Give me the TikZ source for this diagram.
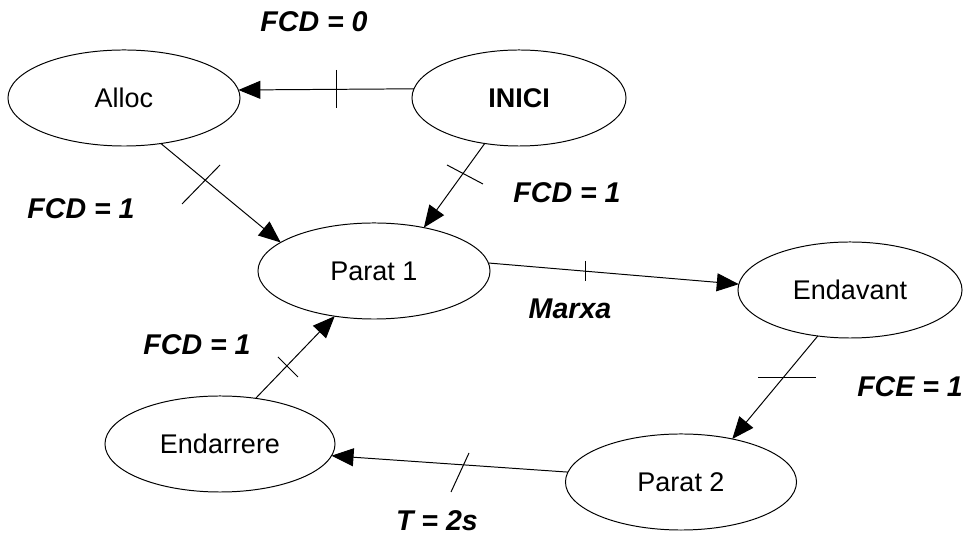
\documentclass[tikz,border=0pt]{standalone}
\usepackage{fontspec}
\setmainfont{Liberation Sans}
\usetikzlibrary{arrows.meta}
\usetikzlibrary{shapes}

\tikzset{
  estat/.style={draw, ellipse, line width=0.7pt, minimum height=2.4cm, inner sep=0pt, outer sep=0pt, font=\fontsize{19.2}{23}\selectfont},
  fletxa/.style={-{Triangle[length=0.55cm,width=0.45cm]}, line width=0.7pt},
  marca/.style={line width=0.7pt},
  condicio/.style={font=\fontsize{20.3}{24}\selectfont\bfseries\itshape},
}

\begin{document}
\begin{tikzpicture}[x=0.025cm, y=-0.025cm]
		\useasboundingbox (0,0) rectangle (963,536);
		%
		%Alloc
		\node[estat, minimum width=5.8cm] (alloc) at (124,98) {Alloc};
		%
		%INICI
		\node[estat, minimum width=5.35cm] (inici) at (519,98) {\bfseries INICI};
		%
		%Parat 1
		\node[estat, minimum width=5.8cm] (parat1) at (374,271) {Parat 1};
		%
		%Endavant
		\node[estat, minimum width=5.6cm] (endavant) at (850,290) {Endavant};
		%
		%Parat 2
		\node[estat, minimum width=5.775cm] (parat2) at (681,482) {Parat 2};
		%
		%Endarrere
		\node[estat, minimum width=5.75cm] (endarrere) at (220,444) {Endarrere};
		%
		%Fletxa INICI-Alloc
		\draw[fletxa] (inici.175) -- (alloc.4);
		\draw[marca] (336,70) -- (336,108);
		\node[condicio] (fcd0) at (314,22) {FCD = 0};
		%
		%Fletxa Alloc-Parat 1
		\draw[fletxa] (alloc.309) -- (parat1.163);
		\draw[marca] (182,204) -- (220,165);
		\node[condicio] (fcd1a) at (81,209) {FCD = 1};
		%
		%Fletxa INICI-Parat 1
		\draw[fletxa] (inici.233) -- (parat1.41);
		\draw[marca] (447,165) -- (483,184);
		\node[condicio] (fcd1b) at (567,193) {FCD = 1};
		%
		%Fletxa Parat 1-Endavant
		\draw[fletxa] (parat1.4) -- (endavant.177);
		\draw[marca] (585,261) -- (585,281);
		\node[condicio] (marxa) at (570,309) {Marxa};
		%
		%Fletxa Endavant-Parat 2
		\draw[fletxa] (endavant.235) -- (parat2.40);
		\draw[marca] (758,377) -- (816,377);
		\node[condicio] (fce1) at (910,387) {FCE = 1};
		%
		%Fletxa Parat 2-Endarrere
		\draw[fletxa] (parat2.175) -- (endarrere.354);
		\draw[marca] (469,453) -- (451,492);
		\node[condicio] (t2s) at (437,521) {T = 2s};
		%
		%Fletxa Endarrere-Parat 1
		\draw[fletxa] (endarrere.52) -- (parat1.229);
		\draw[marca] (278,357) -- (298,377);
		\node[condicio] (fcd1c) at (197,345) {FCD = 1};
	\end{tikzpicture}
\end{document}
